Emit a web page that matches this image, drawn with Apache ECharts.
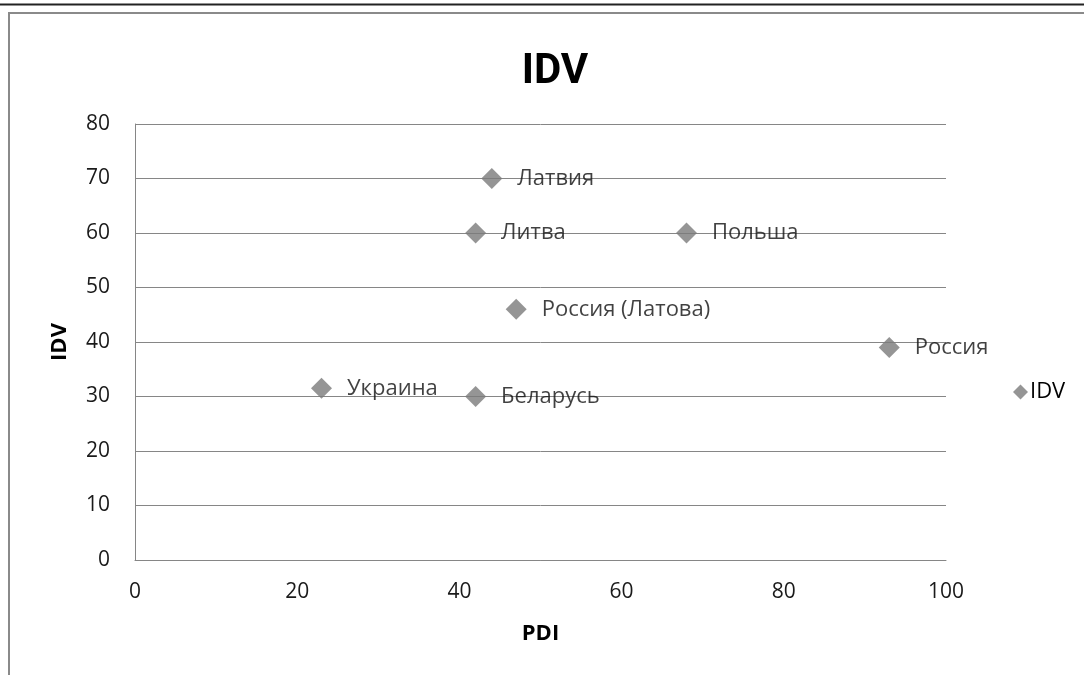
<!DOCTYPE html>
<html>
<head>
<meta charset="utf-8">
<script src="https://cdn.jsdelivr.net/npm/echarts@6/dist/echarts.min.js"></script>
<style>
html,body{margin:0;padding:0;background:#fff;}
#chart{width:1084px;height:675px;}
</style>
</head>
<body>
<div id="chart"></div>
<script>
const countries = ["Латвия", "Литва", "Польша", "Россия (Латова)", "Россия", "Украина", "Беларусь"];
const pdiValues = [44, 42, 68, 47, 93, 23, 42];
const idvValues = [70, 60, 60, 46, 39, 31.5, 30];
const seriesName = "IDV";
const titleText = "IDV";
const xAxisName = "PDI";
const yAxisName = "IDV";

const FONT = "'Open Sans', 'Noto Sans', sans-serif";
const points = countries.map((c, i) => ({ value: [pdiValues[i], idvValues[i]], name: c }));

const chart = echarts.init(document.getElementById('chart'), null, { renderer: 'canvas' });
chart.setOption({
  backgroundColor: '#fff',
  animation: false,
  title: {
    text: titleText,
    left: 550, top: 46, textAlign: 'center',
    textStyle: { fontFamily: "Roboto, 'Open Sans', sans-serif", fontSize: 42, fontWeight: 'bold', color: '#000' }
  },
  legend: {
    data: [seriesName],
    orient: 'vertical',
    left: 1008, top: 376,
    itemWidth: 15, itemHeight: 15, itemGap: 4,
    textStyle: { fontFamily: FONT, fontSize: 22, color: '#000', padding: [0,0,0,-3] }
  },
  grid: { left: 135, right: 138, top: 124, bottom: 115, containLabel: false },
  xAxis: {
    type: 'value', min: 0, max: 100, interval: 20,
    name: xAxisName, nameLocation: 'middle', nameGap: 63,
    nameTextStyle: { fontFamily: FONT, fontSize: 22, fontWeight: 'bold', color: '#000' },
    axisLine: { show: true, lineStyle: { color: '#868686', width: 1 } },
    axisTick: { show: false },
    axisLabel: { fontFamily: FONT, fontSize: 21, color: '#1a1a1a', margin: 22 },
    splitLine: { show: false }
  },
  yAxis: {
    type: 'value', min: 0, max: 80, interval: 10,
    name: yAxisName, nameLocation: 'middle', nameGap: 64, nameRotate: 90,
    nameTextStyle: { fontFamily: FONT, fontSize: 22, fontWeight: 'bold', color: '#000' },
    axisLine: { show: true, lineStyle: { color: '#868686', width: 1 } },
    axisTick: { show: false },
    axisLabel: { fontFamily: FONT, fontSize: 21, color: '#1a1a1a', margin: 25 },
    splitLine: { show: true, lineStyle: { color: '#868686', width: 1 } }
  },
  series: [{
    name: seriesName,
    type: 'scatter',
    symbol: 'diamond',
    symbolSize: 21,
    itemStyle: { color: '#7a7a7a' },
    data: points,
    label: {
      show: true, position: 'right', distance: 15,
      formatter: p => p.name,
      fontFamily: FONT, fontSize: 22, color: '#111'
    }
  }],
  graphic: [
    { type: 'line', shape: { x1: 0, y1: 4.5, x2: 1084, y2: 4.5 }, style: { stroke: '#222', lineWidth: 2 }, silent: true },
    { type: 'polyline', shape: { points: [[9, 675], [9, 13], [1084, 13]] }, style: { stroke: '#8a8a8a', lineWidth: 2, fill: null }, silent: true }
  ]
});
</script>
</body>
</html>
